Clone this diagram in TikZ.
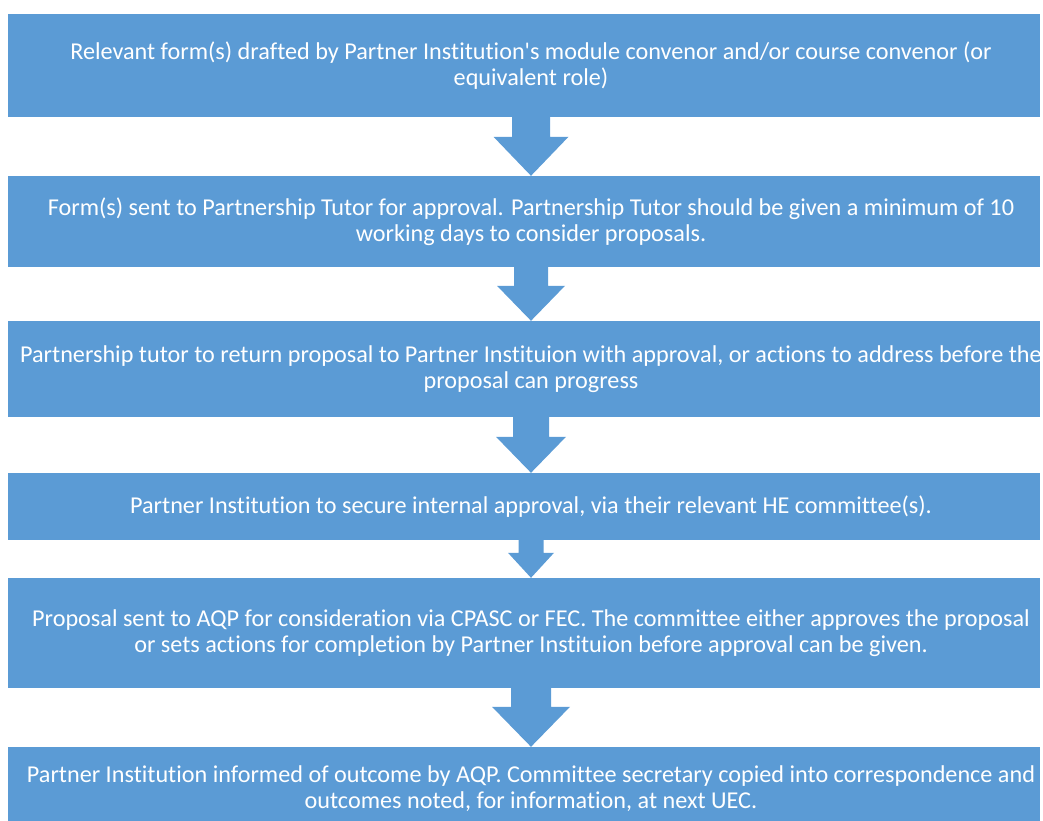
\documentclass[tikz,border=0pt]{standalone}
\usepackage{fontspec}
\setmainfont{Carlito}[Ligatures={NoCommon}]
\usetikzlibrary{calc}
\definecolor{stepblue}{HTML}{5B9BD5}
\tikzset{
  stepbox/.style={rectangle, fill=stepblue, minimum width=1032pt, inner sep=0pt},
  steptext/.style={text=white, align=center, inner sep=0pt,
    font=\fontsize{24.2}{26}\selectfont},
}
% block arrow: from, to, shaft half width, head half width, head length
\newcommand{\flowarrow}[5]{%
  \fill[stepblue] ($(#1.south)+(7-#3,0)$) -- ($(#1.south)+(7+#3,0)$)
    -- ($(#2.north)+(7+#3,-#5)$) -- ($(#2.north)+(7+#4,-#5)$)
    -- ($(#2.north)+(7,0)$) -- ($(#2.north)+(7-#4,-#5)$)
    -- ($(#2.north)+(7-#3,-#5)$) -- cycle;}

\begin{document}
\begin{tikzpicture}[x=1pt, y=-1pt]
        \useasboundingbox (0,0) rectangle (1043,821);
        \clip (0,0) rectangle (1043,821);

        \node (s1) at (524,65.5) [stepbox, minimum height=103pt] {};
        \node (s2) at (524,221.5) [stepbox, minimum height=91pt] {};
        \node (s3) at (524,369) [stepbox, minimum height=96pt] {};
        \node (s4) at (524,506.5) [stepbox, minimum height=67pt] {};
        \node (s5) at (524,633) [stepbox, minimum height=110pt] {};
        \node (s6) at (524,789) [stepbox, minimum height=84pt] {};

        \node (t1) at ($(s1.center)+(7,0)$) [steptext] {Relevant form(s) drafted by Partner Institution\textquotesingle s module convenor and/or course convenor (or\\equivalent role)};
        \node (t2) at ($(s2.center)+(7,0)$) [steptext] {Form(s) sent to Partnership Tutor for approval. Partnership Tutor should be given a minimum of 10\\working days to consider proposals.};
        \node (t3) at ($(s3.center)+(7,0)$) [steptext] {Partnership tutor to return proposal to Partner Instituion with approval, or actions to address before the\\proposal can progress};
        \node (t4) at ($(s4.center)+(7,0)$) [steptext] {Partner Institution to secure internal approval, via their relevant HE committee(s).};
        \node (t5) at ($(s5.center)+(7,0)$) [steptext] {Proposal sent to AQP for consideration via CPASC or FEC. The committee either approves the proposal\\or sets actions for completion by Partner Instituion before approval can be given.};
        \node (t6) at ($(s6.center)+(7,0)$) [steptext] {Partner Institution informed of outcome by AQP. Committee secretary copied into correspondence and\\outcomes noted, for information, at next UEC.};

        \flowarrow{s1}{s2}{19}{37.5}{39}
        \flowarrow{s2}{s3}{17}{34}{35}
        \flowarrow{s3}{s4}{18}{35}{36}
        \flowarrow{s4}{s5}{12.5}{23}{25}
        \flowarrow{s5}{s6}{20}{39}{40}
    \end{tikzpicture}
\end{document}
